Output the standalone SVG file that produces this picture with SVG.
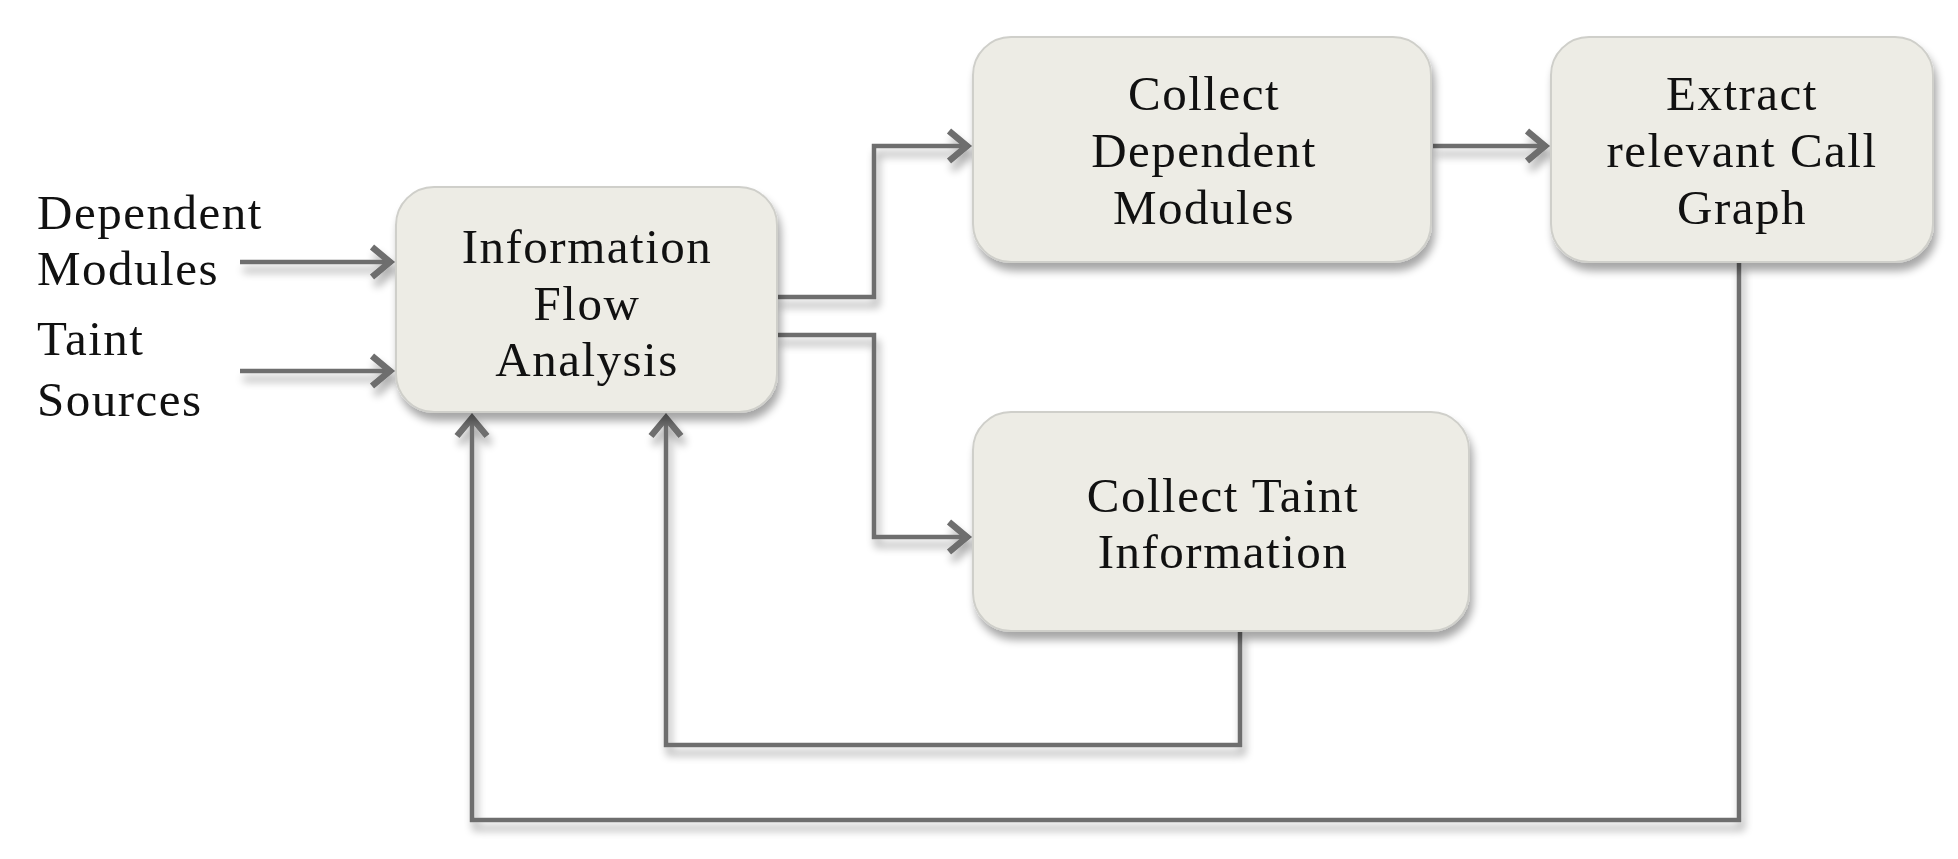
<svg xmlns="http://www.w3.org/2000/svg" width="1958" height="859" viewBox="0 0 1958 859">
<style>
.box{fill:#edece5;stroke:#cfcfca;stroke-width:2}
.t{font-family:"Liberation Serif","Times New Roman",serif;font-size:49px;letter-spacing:1.5px;fill:#111;text-anchor:middle}
.l{font-family:"Liberation Serif","Times New Roman",serif;font-size:49px;letter-spacing:1.5px;fill:#111}
.c{fill:none;stroke:#6e6e6e;stroke-width:4.5;stroke-linejoin:miter}
</style>
<defs>
<filter id="sh" x="-10%" y="-10%" width="125%" height="130%">
<feGaussianBlur in="SourceAlpha" stdDeviation="4"/>
<feOffset dx="3" dy="8" result="b"/>
<feComponentTransfer><feFuncA type="linear" slope="0.35"/></feComponentTransfer>
<feMerge><feMergeNode/><feMergeNode in="SourceGraphic"/></feMerge>
</filter>
<marker id="ah" markerWidth="12" markerHeight="12" refX="0" refY="0" orient="auto" markerUnits="userSpaceOnUse" overflow="visible">
<path d="M-20,-15 L-2,0 L-20,15" fill="none" stroke="#6e6e6e" stroke-width="6.5"/>
</marker>
</defs>
<rect width="1958" height="859" fill="#fff"/>
<g id="connectors" filter="url(#sh)">
<path class="c" d="M240,262 H392" marker-end="url(#ah)"/>
<path class="c" d="M240,371 H392" marker-end="url(#ah)"/>
<path class="c" d="M777,297 H874 V146 H969" marker-end="url(#ah)"/>
<path class="c" d="M777,335 H874 V537 H969" marker-end="url(#ah)"/>
<path class="c" d="M1433,146 H1547" marker-end="url(#ah)"/>
<path class="c" d="M1739,262 V820 H472 V416" marker-end="url(#ah)"/>
<path class="c" d="M1240,631 V745 H666 V416" marker-end="url(#ah)"/>
</g>
<g id="inputs">
<text class="l" x="37" y="229">Dependent</text>
<text class="l" x="37" y="285">Modules</text>
<text class="l" x="37" y="355">Taint</text>
<text class="l" x="37" y="416">Sources</text>
</g>
<g id="ifa">
<rect class="box" x="396" y="187" width="381" height="225" rx="38" filter="url(#sh)"/>
<text class="t" x="587" y="263">Information</text>
<text class="t" x="587" y="320">Flow</text>
<text class="t" x="587" y="376">Analysis</text>
</g>
<g id="cdm">
<rect class="box" x="973" y="37" width="458" height="225" rx="38" filter="url(#sh)"/>
<text class="t" x="1204" y="110">Collect</text>
<text class="t" x="1204" y="167">Dependent</text>
<text class="t" x="1204" y="224">Modules</text>
</g>
<g id="ercg">
<rect class="box" x="1551" y="37" width="382" height="225" rx="38" filter="url(#sh)"/>
<text class="t" x="1742" y="110">Extract</text>
<text class="t" x="1742" y="167">relevant Call</text>
<text class="t" x="1742" y="224">Graph</text>
</g>
<g id="cti">
<rect class="box" x="973" y="412" width="496" height="219" rx="38" filter="url(#sh)"/>
<text class="t" x="1223" y="512">Collect Taint</text>
<text class="t" x="1223" y="568">Information</text>
</g>
</svg>
